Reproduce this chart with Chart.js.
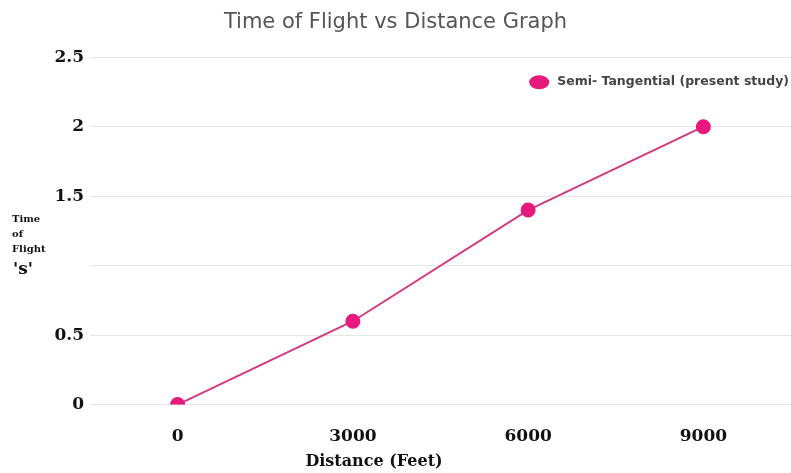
<!DOCTYPE html>
<html>
<head>
<meta charset="utf-8">
<script src="https://cdn.jsdelivr.net/npm/chart.js@4.4.0/dist/chart.umd.min.js"></script>
<style>
  html, body { margin: 0; padding: 0; background: #fff; overflow: hidden; }
  canvas { display: block; }
</style>
</head>
<body>
<canvas id="flightChart" width="791" height="473"></canvas>
<script>
const distances = ["0", "3000", "6000", "9000"];
const timeOfFlight = [0, 0.6, 1.4, 2];
const yTicks = [0, 0.5, 1, 1.5, 2, 2.5];
const seriesName = "Semi- Tangential (present study)";
const xTitle = "Distance (Feet)";
const yTitleLines = ["Time", "of", "Flight"];
const yUnit = "'s'";

const pink = "#e8197c";
const lineColor = "#d43a82";
const serif = "'DejaVu Serif', 'Liberation Serif', serif";
const sans = "'DejaVu Sans', 'Noto Sans', sans-serif";

// axis titles and legend drawn by hand so they sit where the original has them
const extrasPlugin = {
  id: "extras",
  afterDraw(chart) {
    const c = chart.ctx;
    const area = chart.chartArea;
    const y1 = chart.scales.y.getPixelForValue(1);
    c.save();
    c.fillStyle = "#111";
    c.textAlign = "left";
    c.textBaseline = "middle";
    c.font = "bold 10px " + serif;
    yTitleLines.forEach((t, i) => {
      c.fillText(t, 12, y1 - 46 + i * 15);
    });
    c.font = "bold 17px " + serif;
    c.fillText(yUnit, 13, y1 + 4);

    // x axis title
    c.textAlign = "center";
    c.font = "bold 16px " + serif;
    c.fillText(xTitle, 374, chart.height - 11);

    // legend
    const ds = chart.data.datasets[0];
    c.textAlign = "left";
    c.font = "bold 12.5px " + sans;
    const tw = c.measureText(ds.label).width;
    const ly = area.top + 25;
    const tx = area.right - 2 - tw;
    c.fillStyle = ds.pointBackgroundColor;
    c.beginPath();
    c.ellipse(tx - 18, ly, 10, 7, 0, 0, Math.PI * 2);
    c.fill();
    c.fillStyle = "#444";
    c.fillText(ds.label, tx, ly);
    c.restore();
  }
};

const ctx = document.getElementById("flightChart");

const flightChart = new Chart(ctx, {
  type: "line",
  data: {
    labels: distances,
    datasets: [
      {
        label: seriesName,
        data: timeOfFlight,
        borderColor: lineColor,
        backgroundColor: pink,
        pointBackgroundColor: pink,
        pointBorderColor: pink,
        pointRadius: 6.5,
        borderWidth: 2,
        tension: 0
      }
    ]
  },
  options: {
    responsive: false,
    animation: false,
    layout: {
      autoPadding: false,
      padding: { left: 0, right: 0, top: 2, bottom: 4 }
    },
    plugins: {
      title: {
        display: true,
        text: "Time of Flight vs Distance Graph",
        color: "#555",
        font: { family: sans, size: 21, weight: "normal" },
        padding: { top: 8, bottom: 22 }
      },
      legend: { display: false },
      tooltip: { enabled: false }
    },
    scales: {
      x: {
        offset: true,
        grid: { display: false, drawTicks: false },
        border: { display: false },
        ticks: {
          color: "#111",
          padding: 22,
          font: { family: serif, size: 17, weight: "bold" }
        }
      },
      y: {
        min: 0,
        max: 2.5,
        afterBuildTicks(axis) {
          axis.ticks = yTicks.map(v => ({ value: v }));
        },
        afterFit(axis) {
          axis.width = 90;
        },
        grid: { color: "#e6e6e6", drawTicks: false },
        border: { display: false },
        ticks: {
          color: "#111",
          padding: 6,
          font: { family: serif, size: 17, weight: "bold" },
          callback: v => (v === 1 ? "" : String(v))
        }
      }
    }
  },
  plugins: [extrasPlugin]
});
</script>
</body>
</html>
